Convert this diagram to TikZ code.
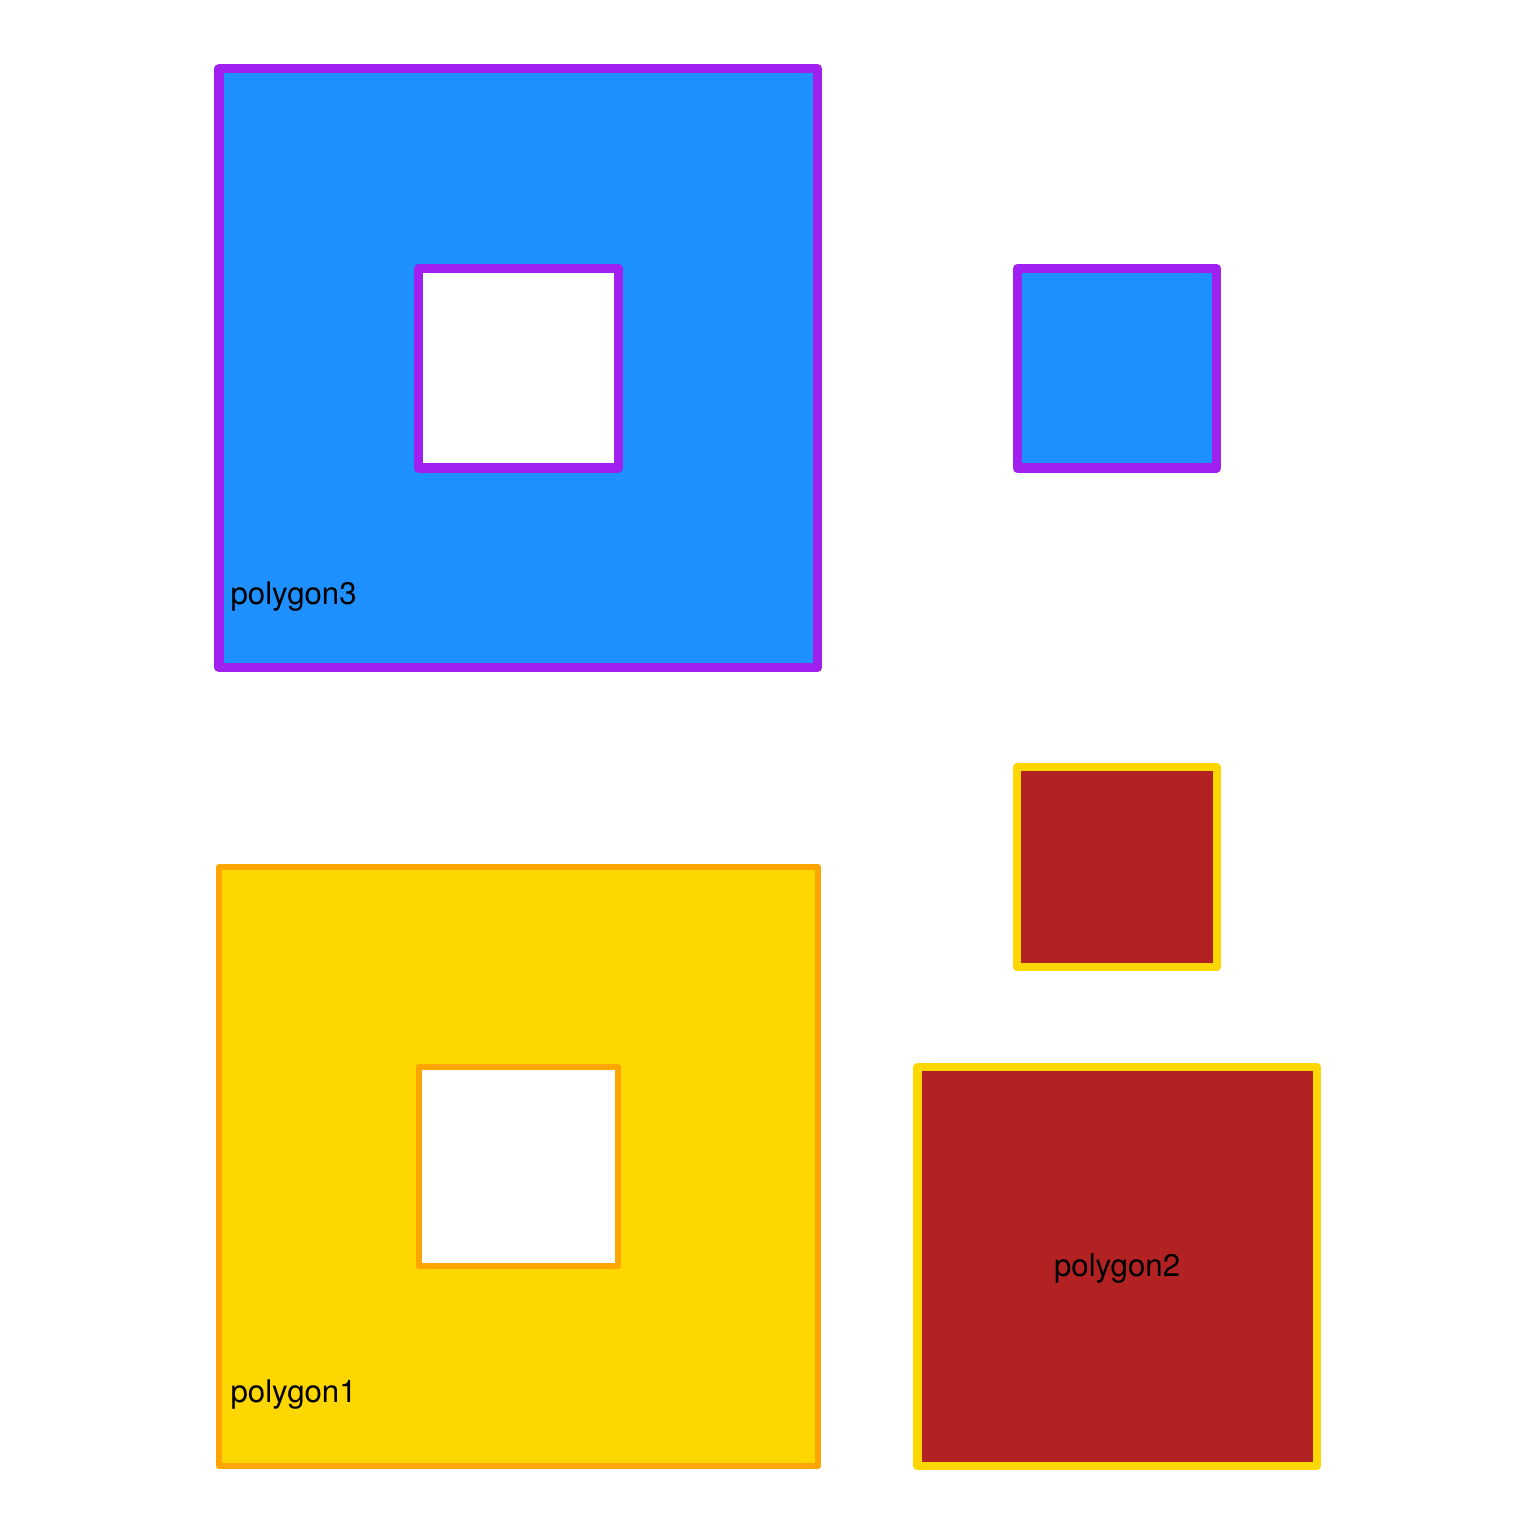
\documentclass[tikz,border=0pt]{standalone}
\usepackage{fontspec}
\setmainfont{TeX Gyre Heros}
\definecolor{dodgerblue}{HTML}{1E90FF}
\definecolor{rpurple}{HTML}{A020F0}
\definecolor{rgold}{HTML}{FFD700}
\definecolor{rorange}{HTML}{FFA500}
\definecolor{firebrick}{HTML}{B22222}

\begin{document}
\begin{tikzpicture}[
            x=2cm, y=2cm,
            line join=round,
            bluepoly/.style={fill=dodgerblue, draw=rpurple, line width=2.6pt, even odd rule},
            yellowpoly/.style={fill=rgold, draw=rorange, line width=1.7pt, even odd rule},
            redpoly/.style={fill=firebrick, draw=rgold, line width=2.3pt},
            polytext/.style={font=\fontsize{8.9}{10}\selectfont, inner sep=0pt, text=black}
        ]
            \fill[white] (-1.097,-0.351) rectangle (6.598,7.345);
            \useasboundingbox (-1.097,-0.351) rectangle (6.598,7.345);
            % polygon3: big square with hole, plus the small square
            \path[bluepoly] (0,4) rectangle (3,7) (1,5) rectangle (2,6);
            \path[bluepoly] (4,5) rectangle (5,6);
            % polygon1: big square with hole
            \path[yellowpoly] (0,0) rectangle (3,3) (1,1) rectangle (2,2);
            % polygon2: two squares
            \path[redpoly] (4,2.5) rectangle (5,3.5);
            \path[redpoly] (3.5,0) rectangle (5.5,2);
            % labels
            \node[polytext, anchor=base west] (poly3) at (0.055,4.314) {polygon3};
            \node[polytext, anchor=base west] (poly1) at (0.055,0.316) {polygon1};
            \node[polytext, anchor=base] (poly2) at (4.5,0.947) {polygon2};
        \end{tikzpicture}
\end{document}
